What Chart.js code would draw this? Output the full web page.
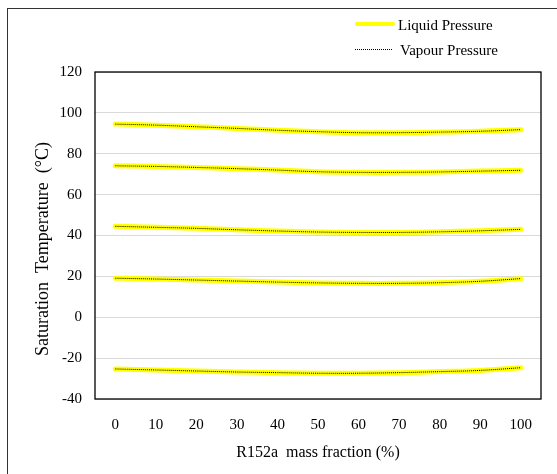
<!DOCTYPE html>
<html>
<head>
<meta charset="utf-8">
<script src="https://cdn.jsdelivr.net/npm/chart.js@4/dist/chart.umd.min.js"></script>
<style>
  html, body { margin: 0; padding: 0; background: #fff; }
  #wrap { position: relative; width: 557px; height: 474px; overflow: hidden; }
  #frame { position: absolute; left: 7px; top: 8px; width: 600px; height: 520px;
           border-left: 1px solid #333; border-top: 1px solid #333; }
  canvas { position: absolute; left: 0; top: 0; }
  .leg { position: absolute; font-family: "Liberation Serif", "Times New Roman", serif;
         font-size: 15px; color: #000; white-space: nowrap; line-height: 18px; }
  .sw { position: absolute; }
</style>
</head>
<body>
<div id="wrap">
  <div id="frame"></div>
  <canvas id="c" width="557" height="474"></canvas>
  <div class="sw" style="left:355px; top:22px; width:40px; height:0; border-top:4px solid #ffff00; border-radius:2px;"></div>
  <div class="leg" style="left:398px; top:16px;">Liquid Pressure</div>
  <div class="sw" style="left:355px; top:49px; width:37px; height:0; border-top:1px dotted #000;"></div>
  <div class="leg" style="left:400px; top:41px;">Vapour Pressure</div>
</div>
<script>
const categories = ["0","10","20","30","40","50","60","70","80","90","100"];
const yTicks = [-40,-20,0,20,40,60,80,100,120];

// Liquid pressure isobars (saturation temperature, °C)
const liquid1 = [94.5, 94.0, 93.2, 92.4, 91.5, 90.8, 90.3, 90.3, 90.6, 91.0, 91.8];
const liquid2 = [74.1, 73.8, 73.3, 72.7, 72.0, 71.2, 70.9, 70.9, 71.1, 71.5, 71.9];
const liquid3 = [44.5, 44.0, 43.5, 42.8, 42.2, 41.7, 41.5, 41.5, 41.8, 42.3, 43.0];
const liquid4 = [19.1, 18.7, 18.2, 17.7, 17.2, 16.8, 16.6, 16.6, 16.9, 17.6, 18.9];
const liquid5 = [-25.3, -25.8, -26.3, -26.8, -27.1, -27.4, -27.4, -27.1, -26.6, -26.0, -24.7];

// Vapour pressure isobars (visually coincide with the liquid curves)
const vapour1 = [94.5, 94.0, 93.2, 92.4, 91.5, 90.8, 90.3, 90.3, 90.6, 91.0, 91.8];
const vapour2 = [74.1, 73.8, 73.3, 72.7, 72.0, 71.2, 70.9, 70.9, 71.1, 71.5, 71.9];
const vapour3 = [44.5, 44.0, 43.5, 42.8, 42.2, 41.7, 41.5, 41.5, 41.8, 42.3, 43.0];
const vapour4 = [19.1, 18.7, 18.2, 17.7, 17.2, 16.8, 16.6, 16.6, 16.9, 17.6, 18.9];
const vapour5 = [-25.3, -25.8, -26.3, -26.8, -27.1, -27.4, -27.4, -27.1, -26.6, -26.0, -24.7];

const liquidSeries = [liquid1, liquid2, liquid3, liquid4, liquid5];
const vapourSeries = [vapour1, vapour2, vapour3, vapour4, vapour5];

const datasets = [];
vapourSeries.forEach(v => datasets.push({
  label: "Vapour Pressure", data: v, borderColor: "#000", borderWidth: 1,
  borderDash: [1, 1], pointRadius: 0, tension: 0.4, fill: false, order: 0
}));
liquidSeries.forEach(v => datasets.push({
  label: "Liquid Pressure", data: v, borderColor: "#ffff00", borderWidth: 5,
  borderCapStyle: "round", pointRadius: 0, tension: 0.4, fill: false, order: 1
}));

const boxPlugin = {
  id: "box",
  afterDraw(chart) {
    const a = chart.chartArea, ctx = chart.ctx;
    ctx.save();
    ctx.strokeStyle = "#000";
    ctx.lineWidth = 1.3;
    ctx.strokeRect(a.left, a.top, a.right - a.left, a.bottom - a.top);
    ctx.restore();
  }
};

const serif = "'Liberation Serif', 'Times New Roman', serif";

new Chart(document.getElementById("c"), {
  type: "line",
  data: { labels: categories, datasets },
  plugins: [boxPlugin],
  options: {
    responsive: false,
    animation: false,
    layout: { padding: { top: 72, right: 16, bottom: 0, left: 0 } },
    plugins: { legend: { display: false }, tooltip: { enabled: false } },
    scales: {
      x: {
        type: "category",
        offset: true,
        grid: { display: false, drawTicks: false },
        border: { display: false },
        ticks: { color: "#000", font: { family: serif, size: 15 }, padding: 17, maxRotation: 0 },
        title: { display: true, text: "R152a  mass fraction (%)", color: "#000",
                 font: { family: serif, size: 16 }, padding: { top: 0, bottom: 12 } },
        afterFit(s) { s.height = 75; }
      },
      y: {
        min: -40, max: 120,
        afterBuildTicks(s) { s.ticks = yTicks.map(v => ({ value: v })); },
        grid: { color: "#d9d9d9", lineWidth: 1, drawTicks: false },
        border: { display: false },
        ticks: { color: "#000", font: { family: serif, size: 15 }, padding: 13 },
        title: { display: true, text: "Saturation  Temperature  (°C)\u00a0\u00a0\u00a0\u00a0\u00a0\u00a0", color: "#000",
                 font: { family: serif, size: 18 }, padding: { top: 32, bottom: 0 } },
        afterFit(s) { s.width = 95; }
      }
    }
  }
});
</script>
</body>
</html>
